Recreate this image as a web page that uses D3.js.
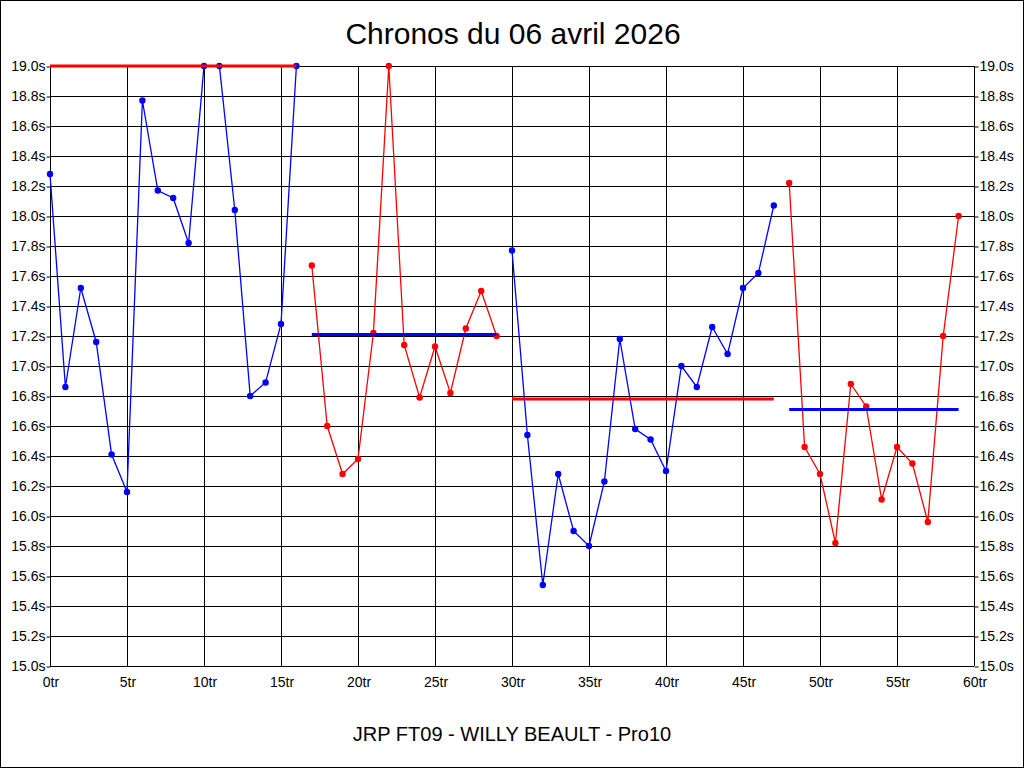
<!DOCTYPE html>
<html><head><meta charset="utf-8">
<script src="https://cdn.jsdelivr.net/npm/d3@7/dist/d3.min.js"></script>
<style>body{margin:0;background:#fff}svg{display:block}</style>
</head><body>
<script>
const titleText = "Chronos du 06 avril 2026";
const footerText = "JRP FT09 - WILLY BEAULT - Pro10";
const yTicks = [15.0,15.2,15.4,15.6,15.8,16.0,16.2,16.4,16.6,16.8,17.0,17.2,17.4,17.6,17.8,18.0,18.2,18.4,18.6,18.8,19.0];
const xTicks = [0,5,10,15,20,25,30,35,40,45,50,55,60];
// segments: start lap index, colour, lap times, average line
const seg1 = [18.28,16.86,17.52,17.16,16.41,16.16,18.77,18.17,18.12,17.82,19.0,19.0,18.04,16.80,16.89,17.28,19.0];
const seg2 = [17.67,16.60,16.28,16.38,17.22,19.0,17.14,16.79,17.13,16.82,17.25,17.50,17.20];
const seg3 = [17.77,16.54,15.54,16.28,15.90,15.80,16.23,17.18,16.58,16.51,16.30,17.00,16.86,17.26,17.08,17.52,17.62,18.07];
const seg4 = [18.22,16.46,16.28,15.82,16.88,16.73,16.11,16.46,16.35,15.96,17.20,18.00];
const segStarts = [0,17,30,48];
const segColors = ["#0000ff","#ff0000","#0000ff","#ff0000"];
const avgValues = [19.0,17.21,16.78,16.71];
const avgColors = ["#ff0000","#0000ff","#ff0000","#0000ff"];

const W=1024,H=768, L=50,R=974,T=66,B=666;
const svg = d3.select("body").append("svg").attr("width",W).attr("height",H);
svg.append("rect").attr("x",0.5).attr("y",0.5).attr("width",W-1).attr("height",H-1).attr("fill","#fff").attr("stroke","#000");
const x = d3.scaleLinear().domain([0,60]).range([L,R]);
const y = d3.scaleLinear().domain([15,19]).range([B,T]);
const ff = "'Liberation Sans', Arial, sans-serif";

// grid
const g = svg.append("g").attr("shape-rendering","crispEdges");
g.selectAll(".hg").data(yTicks).join("line").attr("x1",L).attr("x2",R)
 .attr("y1",d=>Math.round(y(d))+0.5).attr("y2",d=>Math.round(y(d))+0.5).attr("stroke","#000");
g.selectAll(".vg").data(xTicks).join("line").attr("y1",T).attr("y2",B)
 .attr("x1",d=>Math.round(x(d))+0.5).attr("x2",d=>Math.round(x(d))+0.5).attr("stroke","#000");

// axes
const fmtY = d=>d.toFixed(1)+"s";
const ax = (gen,tx,ty)=>svg.append("g").attr("transform",`translate(${tx},${ty})`).call(gen)
  .call(s=>{s.select(".domain").remove(); s.selectAll("text").attr("font-family",ff).attr("font-size",14).attr("fill","#000"); s.selectAll("line").attr("stroke","#000");});
ax(d3.axisLeft(y).tickValues(yTicks).tickFormat(fmtY).tickSize(4).tickPadding(1),L+0.5,0.5);
ax(d3.axisRight(y).tickValues(yTicks).tickFormat(fmtY).tickSize(4).tickPadding(1),R+0.5,0.5);
ax(d3.axisBottom(x).tickValues(xTicks).tickFormat(d=>d+"tr").tickSize(0).tickPadding(11),0.5,B);

// series
const segs=[seg1,seg2,seg3,seg4];
const line = d3.line().x(d=>x(d.i)).y(d=>y(d.v));
segs.forEach((s,k)=>{
  const pts = s.map((v,j)=>({i:segStarts[k]+j,v}));
  svg.append("path").datum(pts).attr("d",line).attr("fill","none").attr("stroke",segColors[k]).attr("stroke-width",1.3);
  svg.selectAll(null).data(pts).join("circle").attr("cx",d=>x(d.i)).attr("cy",d=>y(d.v)).attr("r",3.2).attr("fill",segColors[k]);
});
// averages
segs.forEach((s,k)=>{
  const a=segStarts[k], b=segStarts[k]+s.length-1;
  svg.append("line").attr("x1",x(a)).attr("x2",x(b)).attr("y1",y(avgValues[k])).attr("y2",y(avgValues[k]))
   .attr("stroke",avgColors[k]).attr("stroke-width",3);
});

svg.append("text").attr("x",W/2+1).attr("y",44).attr("text-anchor","middle").attr("font-family",ff).attr("font-size",30).text(titleText);
svg.append("text").attr("x",W/2).attr("y",741).attr("text-anchor","middle").attr("font-family",ff).attr("font-size",20).text(footerText);
</script>
</body></html>
